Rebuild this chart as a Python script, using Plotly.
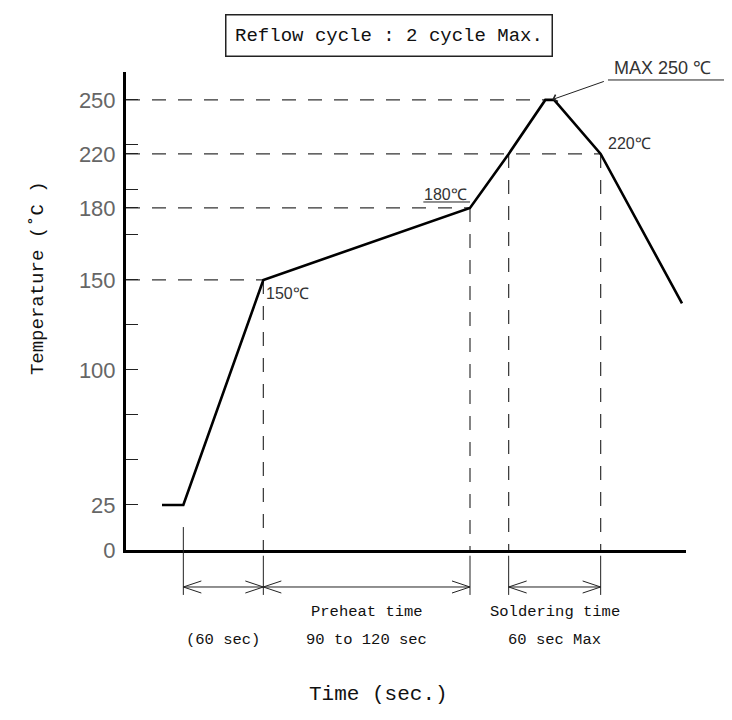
import plotly.graph_objects as go

# ---------------- data ----------------
time_s = [27, 43, 103, 258, 287, 312, 314.5, 321, 324, 356, 417]
temp_c = [25, 25, 150, 190, 220, 247.5, 250, 250, 247.5, 220, 137]

ytick_vals = [0, 25, 50, 75, 100, 125, 150, 175, 190, 200, 220, 225, 250]
ytick_text = ["0", "25", "", "", "100", "", "150", "", "180", "", "220", "", "250"]

# reference levels: (temperature, time where dashed line ends)
h_levels = [150, 190, 220, 250]
h_level_end = [103, 258, 356, 317]
# vertical dashed lines: (time, temperature where they start)
v_times = [103, 258, 287, 356]
v_temps = [150, 190, 220, 220]
ext_times = [43, 103, 258, 287, 356]

dim_spans = [(43, 103), (103, 258), (287, 356)]
dim_top = ["", "Preheat time", "Soldering time"]
dim_bottom = ["(60 sec)", "90 to 120 sec", "60 sec Max"]

point_labels = ["150℃", "180℃", "220℃"]
peak_label = "MAX 250 ℃"
peak_time = 319
peak_temp = 250

MONO = "Liberation Mono, DejaVu Sans Mono, monospace"
SANS = "Liberation Sans, Arial, sans-serif"
DASH = "14px,12px"

fig = go.Figure()

# dashed horizontal reference lines
for lvl, tend in zip(h_levels, h_level_end):
    fig.add_trace(go.Scatter(x=[0, tend], y=[lvl, lvl], mode="lines",
                             line=dict(color="#333", width=1.2, dash=DASH),
                             hoverinfo="skip"))
# dashed vertical reference lines
for t, tp in zip(v_times, v_temps):
    fig.add_trace(go.Scatter(x=[t, t], y=[tp, 0], mode="lines",
                             line=dict(color="#333", width=1.2, dash=DASH),
                             hoverinfo="skip"))

# profile
fig.add_trace(go.Scatter(x=time_s, y=temp_c, mode="lines",
                         line=dict(color="black", width=2.6), hoverinfo="skip"))

shapes = []
# extension lines below axis
for t in ext_times:
    top = 0.048 if t == ext_times[0] else -0.012
    shapes.append(dict(type="line", xref="x", yref="paper", x0=t, x1=t,
                       y0=top, y1=-0.094, line=dict(color="#222", width=1)))
# dimension arrows
yA = -0.0774
L = 13.5
h = 0.0126
for a, b in dim_spans:
    path = (f"M{a},{yA} L{b},{yA} "
            f"M{a + L},{yA + h} L{a},{yA} L{a + L},{yA - h} "
            f"M{b - L},{yA + h} L{b},{yA} L{b - L},{yA - h}")
    shapes.append(dict(type="path", xref="x", yref="paper", path=path,
                       line=dict(color="#222", width=1)))
# underline for 180 label
shapes.append(dict(type="line", xref="x", yref="y", x0=v_times[1] - 35, x1=v_times[1],
                   y0=v_temps[1] + 3.3, y1=v_temps[1] + 3.3, line=dict(color="#222", width=1)))
# underline for MAX label
shapes.append(dict(type="line", xref="paper", yref="paper", x0=0.8607, x1=1.073,
                   y0=0.9833, y1=0.9833, line=dict(color="#222", width=1)))

annotations = []
annotations.append(dict(xref="paper", yref="paper", x=0.4696, y=1.077,
                        text="Reflow cycle : 2 cycle Max.", showarrow=False,
                        font=dict(family=MONO, size=19, color="#111"),
                        bordercolor="#222", borderwidth=1.5, borderpad=0,
                        width=325, height=40, xanchor="center", yanchor="middle"))
annotations.append(dict(xref="paper", yref="paper", x=-0.157, y=0.569,
                        text="Temperature (˚C )", textangle=-90, showarrow=False,
                        font=dict(family=MONO, size=19, color="#111"),
                        xanchor="center", yanchor="middle"))
annotations.append(dict(xref="paper", yref="paper", x=0.45, y=-0.303,
                        text="Time (sec.)", showarrow=False,
                        font=dict(family=MONO, size=21, color="#111"),
                        xanchor="center", yanchor="middle"))
for (a, b), t1, t2 in zip(dim_spans, dim_top, dim_bottom):
    mid = (a + b) / 2
    if t1:
        annotations.append(dict(xref="x", yref="paper", x=mid, y=-0.1297, text=t1,
                                showarrow=False, font=dict(family=MONO, size=15.5, color="#111"),
                                xanchor="center", yanchor="middle"))
    annotations.append(dict(xref="x", yref="paper", x=mid, y=-0.1883, text=t2,
                            showarrow=False, font=dict(family=MONO, size=15.5, color="#111"),
                            xanchor="center", yanchor="middle"))

# point labels
annotations.append(dict(x=v_times[0], y=v_temps[0], text=point_labels[0], showarrow=False,
                        xanchor="left", yanchor="top", xshift=1, yshift=-3,
                        font=dict(family=SANS, size=16, color="#333")))
annotations.append(dict(x=v_times[1], y=v_temps[1], text=point_labels[1], showarrow=False,
                        xanchor="right", yanchor="bottom", xshift=-1, yshift=3,
                        font=dict(family=SANS, size=16, color="#333")))
annotations.append(dict(x=v_times[3], y=v_temps[3], text=point_labels[2], showarrow=False,
                        xanchor="left", yanchor="bottom", xshift=5, yshift=0,
                        font=dict(family=SANS, size=16, color="#333")))
# peak arrow + label
annotations.append(dict(x=peak_time, y=peak_temp, text="", showarrow=True,
                        ax=54, ay=-19, arrowhead=4, arrowsize=1.4, arrowwidth=1,
                        arrowcolor="#222", standoff=1))
annotations.append(dict(xref="paper", yref="paper", x=0.868, y=0.9833, text=peak_label,
                        showarrow=False, xanchor="left", yanchor="bottom", yshift=0,
                        font=dict(family=SANS, size=18, color="#333")))

# page body adds an 8px offset, so margins are reduced by 8px on left/top
fig.update_layout(
    width=732, height=720,
    margin=dict(l=118, r=54, t=64, b=178),
    paper_bgcolor="white", plot_bgcolor="white",
    showlegend=False,
    shapes=shapes, annotations=annotations,
    xaxis=dict(range=[0, 420], showgrid=False, zeroline=False, showticklabels=False,
               ticks="", showline=True, linecolor="black", linewidth=3),
    yaxis=dict(range=[0, 265.5], showgrid=False, zeroline=False,
               tickmode="array", tickvals=ytick_vals, ticktext=ytick_text,
               ticks="inside", ticklen=12, tickwidth=1.3, tickcolor="#222",
               showline=True, linecolor="black", linewidth=3,
               tickfont=dict(family=SANS, size=22, color="#666"),
               ticklabelstandoff=3),
)

fig.write_html("out.html")
